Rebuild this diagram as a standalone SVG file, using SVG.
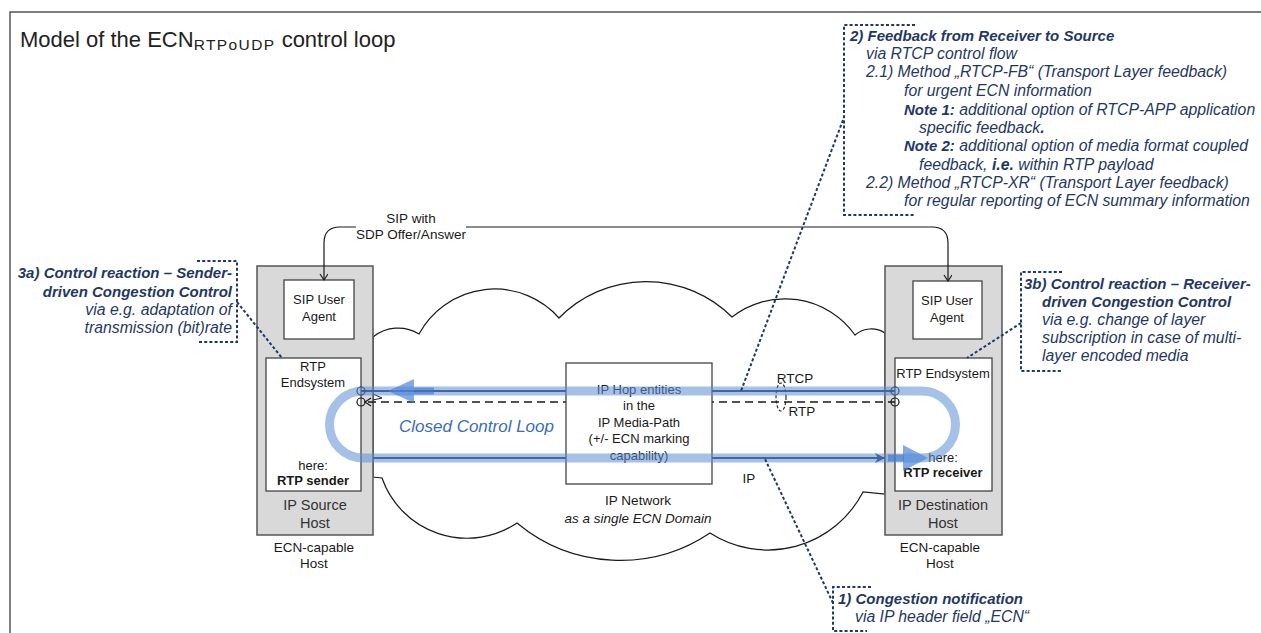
<svg xmlns="http://www.w3.org/2000/svg" width="1261" height="633" viewBox="0 0 1261 633">
<defs>
<style>
text{font-family:"Liberation Sans",Arial,sans-serif;}
.t{fill:#1a1a1a;font-size:13px;text-anchor:middle;}
.h{fill:#333;font-size:14.5px;text-anchor:middle;}
.cap{fill:#1a1a1a;font-size:13.5px;text-anchor:middle;}
.c{fill:#1f3864;font-size:15.8px;font-style:italic;}
.cb{font-weight:bold;font-size:15px;}
.host{fill:#d9d9d9;stroke:#555;stroke-width:1.5;}
.box{fill:#fff;stroke:#444;stroke-width:1.3;}
.dot{fill:none;stroke:#1f3864;stroke-width:2;stroke-dasharray:3 2.2;}
.line{fill:none;stroke:#1f3864;stroke-width:2;}
.thin{fill:none;stroke:#1a1a1a;stroke-width:1.2;}
</style>
<marker id="openA" markerWidth="10" markerHeight="10" refX="7" refY="4" orient="auto" markerUnits="userSpaceOnUse">
<path d="M1,0 L7,4 L1,8" fill="none" stroke="#1a1a1a" stroke-width="1.2"/>
</marker>
<marker id="fillA" markerWidth="12" markerHeight="10" refX="10" refY="5" orient="auto" markerUnits="userSpaceOnUse">
<path d="M0,0 L10,5 L0,10 L3,5 Z" fill="#1f3864"/>
</marker>
</defs>

<!-- frame -->
<path d="M10,633 V12 H1261" fill="none" stroke="#555" stroke-width="1.5"/>

<!-- title -->
<text x="20" y="47" font-size="22" fill="#222">Model of the ECN<tspan font-size="15.5" letter-spacing="1.4" dy="3">RTPoUDP</tspan><tspan dy="-3"> control loop</tspan></text>

<!-- cloud -->
<g id="cloud">
<path d="M373,337 A40,40 0 0 1 419,334 A86,86 0 0 1 559,318 A122,122 0 0 1 732,317 A86,86 0 0 1 855,335 A25,25 0 0 1 885,333 L885,494 L863,492 A107,107 0 0 1 710,533 A161,161 0 0 1 517,523 A90,90 0 0 1 382,478 L373,477 Z" fill="#fff" stroke="#1a1a1a" stroke-width="1.2"/>
<text class="cap" x="638" y="505" font-size="15">IP Network</text>
<text class="cap" x="638" y="523" font-size="14.5" font-style="italic">as a single ECN Domain</text>
</g>

<!-- source host -->
<g id="source-host">
<rect class="host" x="257" y="266" width="116" height="269"/>
<text class="h" x="315" y="510">IP Source</text>
<text class="h" x="315" y="528">Host</text>
<text class="cap" x="314" y="552">ECN-capable</text>
<text class="cap" x="314" y="568">Host</text>
</g>
<g id="source-sip-ua">
<rect class="box" x="284" y="280" width="70" height="59"/>
<text class="t" x="319" y="304">SIP User</text>
<text class="t" x="319" y="321">Agent</text>
</g>
<g id="source-rtp">
<rect class="box" x="266" y="358" width="95" height="133"/>
<text class="t" x="313" y="371">RTP</text>
<text class="t" x="313" y="387">Endsystem</text>
<text class="t" x="313" y="470">here:</text>
<text class="t" x="313" y="485" font-weight="bold">RTP sender</text>
</g>

<!-- destination host -->
<g id="dest-host">
<rect class="host" x="885" y="266" width="117" height="269"/>
<text class="h" x="943" y="510">IP Destination</text>
<text class="h" x="943" y="528">Host</text>
<text class="cap" x="940" y="552">ECN-capable</text>
<text class="cap" x="940" y="568">Host</text>
</g>
<g id="dest-sip-ua">
<rect class="box" x="913" y="281" width="69" height="58"/>
<text class="t" x="947" y="305">SIP User</text>
<text class="t" x="947" y="322">Agent</text>
</g>
<g id="dest-rtp">
<rect class="box" x="895" y="358" width="97" height="133"/>
<text class="t" x="943" y="378">RTP Endsystem</text>
<text class="t" x="943" y="462">here:</text>
<text class="t" x="943" y="477" font-weight="bold">RTP receiver</text>
</g>

<!-- connectors -->
<g id="connectors">
<path class="thin" d="M356,227 H340 Q324,227 324,243 V280" marker-end="url(#openA)"/>
<path class="thin" d="M466,227 H932 Q948,227 948,243 V281" marker-end="url(#openA)"/>
<text class="cap" x="411" y="223">SIP with</text>
<text class="cap" x="411" y="239">SDP Offer/Answer</text>

<!-- RTCP -->
<path class="line" d="M361,391 H895"/>
<!-- RTP dashed -->
<path d="M368,402 H895" fill="none" stroke="#1a1a1a" stroke-width="1.3" stroke-dasharray="8 5"/>
<path d="M371,398 L365,402 L371,406" fill="none" stroke="#1a1a1a" stroke-width="1.2"/>
<path d="M373,394 L382,398 L373,400" fill="none" stroke="#1a1a1a" stroke-width="1"/>
<!-- IP -->
<path class="line" d="M373,458 H885" marker-end="url(#fillA)"/>
<ellipse cx="781" cy="397" rx="5" ry="14" fill="none" stroke="#1a1a1a" stroke-width="1.1" stroke-dasharray="3 2"/>
<text class="cap" x="795" y="383" text-anchor="start">RTCP</text>
<text class="cap" x="802" y="416" text-anchor="start">RTP</text>
<text class="cap" x="749" y="483" text-anchor="start">IP</text>
<circle cx="361" cy="391" r="4" fill="none" stroke="#1a1a1a" stroke-width="1.2"/>
<circle cx="361" cy="402" r="4" fill="none" stroke="#1a1a1a" stroke-width="1.2"/>
<circle cx="895" cy="391" r="4" fill="none" stroke="#1a1a1a" stroke-width="1.2"/>
<circle cx="895" cy="402" r="4" fill="none" stroke="#1a1a1a" stroke-width="1.2"/>
</g>

<!-- IP hop entities -->
<g id="ip-hop">
<rect class="box" x="566" y="363" width="146" height="121"/>
<text class="t" x="639" y="394" font-size="14">IP Hop entities</text>
<text class="t" x="639" y="410" font-size="14">in the</text>
<text class="t" x="639" y="427" font-size="14">IP Media-Path</text>
<text class="t" x="639" y="443" font-size="14">(+/- ECN marking</text>
<text class="t" x="639" y="460" font-size="14">capability)</text>
</g>

<!-- closed loop -->
<g id="closed-loop">
<path d="M363,391 H922 A33.5,33.5 0 0 1 922,458 H363 A33.5,33.5 0 0 1 363,391 Z" fill="none" stroke="#5b8ed6" stroke-opacity="0.55" stroke-width="9"/>
<path d="M388,391 L414,379 L414,403 Z" fill="#4f86d9" fill-opacity="0.7"/>
<path d="M414,391 H434" stroke="#3f76cc" stroke-opacity="0.6" stroke-width="7"/>
<path d="M928,458 L903,445 L903,471 Z" fill="#4f86d9" fill-opacity="0.7"/>
<path d="M888,458 H904" stroke="#3f76cc" stroke-opacity="0.6" stroke-width="7"/>
<text x="399" y="432" font-size="17" font-style="italic" fill="#3a6cc0">Closed Control Loop</text>
</g>

<!-- callout 3a -->
<g id="callout-3a">
<path class="dot" d="M197,261 H237 V342 H197"/>
<path class="dot" d="M237,302 L282,358"/>
<text class="c" text-anchor="end" x="232" y="278"><tspan class="cb">3a) Control reaction – Sender-</tspan></text>
<text class="c" text-anchor="end" x="232" y="297"><tspan class="cb">driven Congestion Control</tspan></text>
<text class="c" text-anchor="end" x="232" y="315">via e.g. adaptation of</text>
<text class="c" text-anchor="end" x="232" y="333">transmission (bit)rate</text>
</g>

<!-- callout 3b -->
<g id="callout-3b">
<path class="dot" d="M1062,272 H1021 V371 H1062"/>
<path class="dot" d="M1021,323 L967,358"/>
<text class="c" x="1024" y="289"><tspan class="cb">3b) Control reaction – Receiver-</tspan></text>
<text class="c" x="1042" y="307"><tspan class="cb">driven Congestion Control</tspan></text>
<text class="c" x="1042" y="325">via e.g. change of layer</text>
<text class="c" x="1042" y="343">subscription in case of multi-</text>
<text class="c" x="1042" y="361">layer encoded media</text>
</g>

<!-- callout 2 -->
<g id="callout-2">
<path class="dot" d="M915,25 H844 V215 H915"/>
<path class="dot" d="M843,120 L741,391"/>
<text class="c" x="850" y="41"><tspan class="cb">2) Feedback from Receiver to Source</tspan></text>
<text class="c" x="866" y="59">via RTCP control flow</text>
<text class="c" x="866" y="77">2.1) Method „RTCP-FB“ (Transport Layer feedback)</text>
<text class="c" x="904" y="96">for urgent ECN information</text>
<text class="c" x="904" y="115"><tspan class="cb">Note 1:</tspan> additional option of RTCP-APP application</text>
<text class="c" x="919" y="133">specific feedback<tspan font-weight="bold">.</tspan></text>
<text class="c" x="904" y="151"><tspan class="cb">Note 2:</tspan> additional option of media format coupled</text>
<text class="c" x="919" y="170">feedback, <tspan font-weight="bold">i.e.</tspan> within RTP payload</text>
<text class="c" x="866" y="188">2.2) Method „RTCP-XR“ (Transport Layer feedback)</text>
<text class="c" x="904" y="206">for regular reporting of ECN summary information</text>
</g>

<!-- callout 1 -->
<g id="callout-1">
<path class="dot" d="M871,587 H833 V631 H867"/>
<path class="dot" d="M833,603 L765,459"/>
<text class="c" x="838" y="604"><tspan class="cb">1) Congestion notification</tspan></text>
<text class="c" x="855" y="622">via IP header field „ECN“</text>
</g>
</svg>
